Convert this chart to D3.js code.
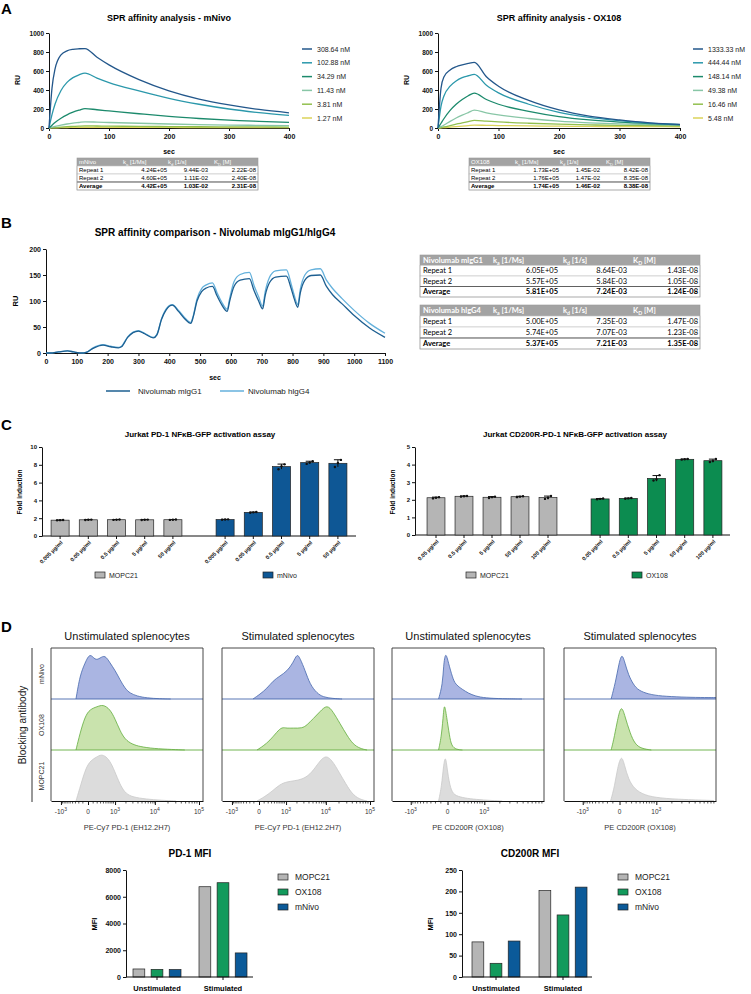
<!DOCTYPE html>
<html>
<head>
<meta charset="utf-8">
<script src="https://cdn.jsdelivr.net/npm/d3@7"></script>
<style>
  body { margin: 0; background: #fff; }
  svg { display: block; }
</style>
</head>
<body>
<svg id="fig" width="751" height="994"></svg>
<script>
// ---------- A: SPR sensorgrams ----------
const sprTimes = [0, 5, 10, 20, 30, 40, 50, 60, 80, 100, 150, 200, 250, 300, 350, 400];
const sprColors = ['#23578b', '#2b98ab', '#1c8a6c', '#88c6a6', '#92c04f', '#dbd35a'];

const mnivoConc = ['308.64 nM', '102.88 nM', '34.29 nM', '11.43 nM', '3.81 nM', '1.27 nM'];
const mnivoRU = [
  [0, 420, 620, 770, 812, 828, 834, 836, 745, 665, 510, 392, 305, 243, 195, 160],
  [0, 140, 250, 395, 480, 530, 560, 578, 525, 478, 390, 312, 250, 200, 162, 132],
  [0, 30, 58, 103, 139, 166, 187, 205, 192, 180, 150, 122, 100, 82, 70, 60],
  [0, 8, 16, 30, 42, 51, 58, 65, 62, 58, 50, 42, 36, 31, 28, 25],
  [0, 3, 5, 10, 14, 17, 20, 22, 21, 20, 17, 15, 13, 12, 11, 10],
  [0, 1, 2, 3, 5, 6, 7, 8, 8, 7, 6, 6, 5, 5, 4, 4],
];

const ox108Conc = ['1333.33 nM', '444.44 nM', '148.14 nM', '49.38 nM', '16.46 nM', '5.48 nM'];
const ox108RU = [
  [0, 420, 540, 610, 645, 665, 680, 690, 540, 440, 290, 190, 125, 85, 55, 38],
  [0, 230, 340, 440, 495, 530, 550, 565, 450, 370, 250, 165, 112, 78, 52, 36],
  [0, 50, 100, 185, 250, 300, 340, 368, 300, 250, 175, 120, 85, 62, 46, 34],
  [0, 15, 32, 70, 105, 135, 162, 188, 160, 138, 100, 72, 55, 44, 36, 30],
  [0, 5, 11, 25, 40, 55, 68, 80, 72, 64, 50, 40, 33, 28, 25, 22],
  [0, 2, 4, 9, 14, 20, 25, 30, 28, 26, 22, 19, 17, 15, 14, 13],
];

const tableRows = ['Repeat 1', 'Repeat 2', 'Average'];
const kinCols = [['k', 'a', '[1/Ms]'], ['k', 'd', '[1/s]'], ['K', 'D', '[M]']];
const mnivoKin = [['4.24E+05', '9.44E-03', '2.22E-08'], ['4.60E+05', '1.11E-02', '2.40E-08'], ['4.42E+05', '1.03E-02', '2.31E-08']];
const ox108Kin = [['1.73E+05', '1.45E-02', '8.42E-08'], ['1.76E+05', '1.47E-02', '8.35E-08'], ['1.74E+05', '1.46E-02', '8.38E-08']];

// ---------- B: single cycle kinetics ----------
const bTime = [0, 15, 40, 70, 90, 117, 130, 150, 185, 210, 235, 245, 265, 300, 320, 348, 360, 375, 390, 410,
  430, 450, 470, 478, 490, 505, 520, 540, 555, 570, 588, 596, 610, 630, 660, 675, 690, 703, 711, 725,
  745, 780, 795, 805, 817, 825, 840, 860, 890, 910, 930, 960, 1000, 1050, 1100];
const bMIgG1 = [0, 0, 2, 4, 2, 0, 1, 8, 15, 12, 10, 12, 30, 42, 37, 29, 35, 65, 83, 92,
  80, 66, 57, 70, 100, 118, 125, 128, 110, 93, 80, 100, 128, 140, 143, 120, 100, 85, 110, 135,
  146, 148, 125, 105, 88, 115, 140, 149, 150, 128, 112, 95, 72, 48, 30];
const bHIgG4 = [0, 0, 2, 4, 2, 0, 1, 9, 16, 13, 11, 13, 31, 43, 38, 30, 36, 66, 85, 93,
  82, 68, 59, 72, 104, 124, 131, 135, 116, 98, 84, 105, 137, 151, 155, 130, 108, 90, 117, 145,
  158, 160, 134, 112, 93, 122, 150, 160, 162, 140, 124, 105, 82, 57, 38];
const mIgG1Kin = [['6.05E+05', '8.64E-03', '1.43E-08'], ['5.57E+05', '5.84E-03', '1.05E-08'], ['5.81E+05', '7.24E-03', '1.24E-08']];
const hIgG4Kin = [['5.00E+05', '7.35E-03', '1.47E-08'], ['5.74E+05', '7.07E-03', '1.23E-08'], ['5.37E+05', '7.21E-03', '1.35E-08']];

// ---------- C: reporter assays (three replicates per bar) ----------
const pdDoses = ['0.005 µg/ml', '0.05 µg/ml', '0.5 µg/ml', '5 µg/ml', '50 µg/ml'];
const pdMOPC21 = [[1.76, 1.78, 1.80], [1.80, 1.82, 1.84], [1.81, 1.83, 1.85], [1.80, 1.82, 1.84], [1.81, 1.83, 1.85]];
const pdMNivo = [[1.83, 1.85, 1.87], [2.62, 2.66, 2.69], [7.5, 7.85, 8.05], [8.1, 8.25, 8.4], [7.75, 8.2, 8.55]];
const cdDoses = ['0.05 µg/ml', '0.5 µg/ml', '5 µg/ml', '50 µg/ml', '100 µg/ml'];
const cdMOPC21 = [[2.08, 2.12, 2.15], [2.18, 2.2, 2.22], [2.1, 2.15, 2.18], [2.15, 2.18, 2.2], [2.05, 2.1, 2.22]];
const cdOX108 = [[2.03, 2.05, 2.07], [2.06, 2.08, 2.1], [3.1, 3.15, 3.4], [4.28, 4.3, 4.32], [4.15, 4.2, 4.32]];

// ---------- D: flow histograms, [fluorescence, relative count] ----------
const pdUnstimMNivo = [[-283, 0], [-168, 0.5], [-55, 0.75], [36, 0.97], [144, 0.8], [283, 0.85], [463, 0.92], [696, 0.75], [997, 0.6], [1387, 0.4], [1892, 0.22], [2545, 0.12], [3795, 0.06], [6570, 0.02], [13170, 0.005], [23000, 0]];
const pdUnstimOX108 = [[-283, 0], [-168, 0.35], [-55, 0.7], [36, 0.85], [195, 0.9], [385, 0.95], [696, 0.85], [997, 0.65], [1387, 0.4], [1892, 0.22], [2858, 0.12], [4490, 0.07], [9080, 0.03], [26000, 0.01], [48000, 0]];
const pdUnstimMOPC21 = [[-283, 0], [-144, 0.35], [-36, 0.7], [55, 0.85], [195, 0.92], [315, 0.97], [505, 0.93], [750, 0.8], [1067, 0.55], [1478, 0.3], [2010, 0.15], [3027, 0.08], [6230, 0.04], [13900, 0.015], [30500, 0]];
const pdStimMNivo = [[-120, 0], [17, 0.1], [168, 0.22], [349, 0.38], [644, 0.48], [1067, 0.58], [1575, 0.75], [2010, 0.95], [2400, 0.85], [3203, 0.6], [4244, 0.3], [6230, 0.12], [8610, 0.04], [14620, 0.01], [23500, 0]];
const pdStimOX108 = [[-36, 0], [76, 0.08], [252, 0.2], [505, 0.38], [750, 0.48], [1067, 0.45], [1575, 0.46], [2697, 0.45], [3587, 0.52], [5010, 0.65], [7330, 0.8], [10650, 0.95], [14620, 0.8], [21100, 0.55], [30500, 0.3], [41600, 0.12], [59800, 0.03], [86000, 0]];
const pdStimMOPC21 = [[-36, 0], [97, 0.08], [315, 0.2], [644, 0.35], [1067, 0.4], [1675, 0.42], [2697, 0.45], [4244, 0.55], [6230, 0.75], [9580, 0.97], [13900, 0.85], [20050, 0.6], [28900, 0.35], [39500, 0.15], [56800, 0.04], [86000, 0]];
const cdUnstimMNivo = [[-140, 0], [-72, 0.3], [-57, 0.7], [-27, 1.0], [13, 0.75], [72, 0.45], [122, 0.3], [261, 0.2], [410, 0.12], [628, 0.06], [1049, 0.02], [2202, 0.005], [4790, 0]];
const cdUnstimOX108 = [[-140, 0], [-88, 0.3], [-57, 0.8], [-42, 0.97], [-13, 0.7], [27, 0.3], [57, 0.08], [140, 0.01], [261, 0]];
const cdUnstimMOPC21 = [[-140, 0], [-88, 0.3], [-57, 0.75], [-27, 0.97], [0, 0.6], [42, 0.25], [100, 0.12], [261, 0.07], [528, 0.04], [1152, 0.015], [2202, 0]];
const cdStimMNivo = [[-130, 0], [-57, 0.35], [-13, 0.7], [32, 0.97], [80, 0.75], [140, 0.5], [239, 0.3], [357, 0.18], [664, 0.1], [1262, 0.06], [2916, 0.04], [6230, 0.03], [10800, 0.03]];
const cdStimOX108 = [[-130, 0], [-88, 0.2], [-38, 0.55], [22, 0.97], [80, 0.7], [170, 0.35], [275, 0.12], [437, 0.03], [779, 0]];
const cdStimMOPC21 = [[-140, 0], [-72, 0.3], [-27, 0.7], [27, 0.97], [72, 0.75], [140, 0.45], [261, 0.25], [528, 0.12], [1152, 0.06], [3280, 0.03], [10000, 0.01]];

const mfiGroups = ['Unstimulated', 'Stimulated'];
const mfiSeries = ['MOPC21', 'OX108', 'mNivo'];
const pd1Mfi = [[600, 570, 560], [6750, 7050, 1800]];
const cd200rMfi = [[82, 32, 84], [202, 145, 210]];

// ---------- drawing ----------
const FONT = '"Liberation Sans", Arial, Helvetica, sans-serif';
const svg = d3.select('#fig').attr('font-family', FONT);
const plain = d3.format('d');

function txt(g, x, y, s, size, o = {}) {
  const t = g.append('text').attr('x', x).attr('y', y).attr('font-size', size).text(s);
  if (o.bold) t.attr('font-weight', 'bold');
  if (o.anchor) t.attr('text-anchor', o.anchor);
  if (o.rotate) t.attr('transform', `rotate(-90,${x},${y})`);
  if (o.fill) t.attr('fill', o.fill);
  return t;
}

function prismAxis(g, size) {
  g.attr('font-family', FONT).attr('font-size', size).attr('font-weight', 'bold');
  g.selectAll('path,line').attr('stroke', '#111').attr('stroke-width', 1);
  g.selectAll('text').attr('fill', '#111');
  return g;
}

function kinTable(x, y0, w, rowH, name, data, o) {
  const g = svg.append('g').attr('font-family', o.family).attr('font-size', o.size);
  const off = o.size * 0.35;
  g.append('rect').attr('x', x).attr('y', y0).attr('width', w).attr('height', rowH).attr('fill', '#a3a3a3');
  const hy = y0 + rowH / 2 + off;
  g.append('text').attr('x', x + o.labelX[0]).attr('y', hy).attr('fill', '#fff')
    .attr('font-weight', o.headBold ? 'bold' : null).text(name);
  kinCols.forEach(([b, s, u], j) => {
    const t = g.append('text').attr('x', x + o.labelX[j + 1]).attr('y', hy).attr('fill', '#fff')
      .attr('font-weight', o.headBold ? 'bold' : null);
    t.append('tspan').text(b);
    t.append('tspan').attr('font-size', o.size * 0.7).attr('dy', o.size * 0.25).text(s);
    t.append('tspan').attr('dy', -o.size * 0.25).text(' ' + u);
  });
  tableRows.forEach((r, i) => {
    const ry = y0 + rowH * (i + 1);
    g.append('rect').attr('x', x).attr('y', ry).attr('width', w).attr('height', rowH)
      .attr('fill', '#fff').attr('stroke', '#c4c4c4').attr('stroke-width', 0.6);
    const ty = ry + rowH / 2 + off;
    const bold = i === 2 ? 'bold' : null;
    g.append('text').attr('x', x + o.labelX[0]).attr('y', ty).attr('font-weight', bold).text(r);
    data[i].forEach((v, j) => g.append('text').attr('x', x + o.valX[j]).attr('y', ty)
      .attr('text-anchor', 'end').attr('font-weight', bold).text(v));
  });
  g.append('line').attr('x1', x).attr('x2', x + w).attr('y1', y0 + rowH * 3).attr('y2', y0 + rowH * 3)
    .attr('stroke', '#444').attr('stroke-width', 0.8);
  g.append('rect').attr('x', x).attr('y', y0).attr('width', w).attr('height', rowH * 4)
    .attr('fill', 'none').attr('stroke', '#9a9a9a').attr('stroke-width', 0.6);
}

// panel letters
[['A', 14], ['B', 228], ['C', 430], ['D', 632]].forEach(([l, y]) => txt(svg, 1, y, l, 15, { bold: true }));

// ----- A -----
function drawSPR(x0, x1, title, concs, series, tblX, tblName, tblData) {
  const x = d3.scaleLinear().domain([0, 400]).range([x0, x1]);
  const y = d3.scaleLinear().domain([0, 1000]).range([128, 33]);
  txt(svg, (x0 + x1) / 2, 21, title, 9, { bold: true, anchor: 'middle' });
  prismAxis(svg.append('g').attr('transform', 'translate(0,128)')
    .call(d3.axisBottom(x).tickValues([0, 100, 200, 300, 400]).tickFormat(plain).tickSize(3).tickPadding(3).tickSizeOuter(0)), 7);
  prismAxis(svg.append('g').attr('transform', `translate(${x0},0)`)
    .call(d3.axisLeft(y).tickValues(d3.range(0, 1001, 200)).tickFormat(plain).tickSize(3).tickPadding(2).tickSizeOuter(0)), 6.5);
  txt(svg, (x0 + x1) / 2, 154, 'sec', 7, { bold: true, anchor: 'middle' });
  txt(svg, x0 - 29, 80, 'RU', 7, { bold: true, anchor: 'middle', rotate: true });

  const line = d3.line().x((d, i) => x(sprTimes[i])).y(d => y(d)).curve(d3.curveMonotoneX);
  series.slice().reverse().forEach((s, k) => {
    const i = series.length - 1 - k;
    svg.append('path').attr('d', line(s)).attr('fill', 'none')
      .attr('stroke', sprColors[i]).attr('stroke-width', 1.3);
  });
  concs.forEach((c, i) => {
    const ly = 49 + i * 13.8;
    svg.append('line').attr('x1', x1 + 13).attr('x2', x1 + 23).attr('y1', ly).attr('y2', ly)
      .attr('stroke', sprColors[i]).attr('stroke-width', 1.5);
    txt(svg, x1 + 28, ly + 2.5, c, 7, { fill: '#222' });
  });
  kinTable(tblX, 158, 181, 8, tblName, tblData,
    { size: 6, family: FONT, labelX: [2, 46, 91, 137], valX: [90, 131, 179], headBold: false });
}
drawSPR(49, 289, 'SPR affinity analysis - mNivo', mnivoConc, mnivoRU, 77, 'mNivo', mnivoKin);
drawSPR(438, 680, 'SPR affinity analysis - OX108', ox108Conc, ox108RU, 469, 'OX108', ox108Kin);

// ----- B -----
{
  const x = d3.scaleLinear().domain([0, 1100]).range([46, 385]);
  const y = d3.scaleLinear().domain([0, 200]).range([353, 249]);
  txt(svg, 215, 236, 'SPR affinity comparison - Nivolumab mlgG1/hlgG4', 10, { bold: true, anchor: 'middle' });
  prismAxis(svg.append('g').attr('transform', 'translate(0,353)')
    .call(d3.axisBottom(x).tickValues(d3.range(0, 1101, 100)).tickFormat(plain).tickSize(3).tickPadding(3).tickSizeOuter(0)), 7);
  prismAxis(svg.append('g').attr('transform', 'translate(46,0)')
    .call(d3.axisLeft(y).tickValues([0, 50, 100, 150, 200]).tickSize(3).tickPadding(2).tickSizeOuter(0)), 7);
  txt(svg, 215, 380, 'sec', 7, { bold: true, anchor: 'middle' });
  txt(svg, 18, 301, 'RU', 7.5, { bold: true, anchor: 'middle', rotate: true });
  const line = d3.line().x((d, i) => x(bTime[i])).y(d => y(d)).curve(d3.curveMonotoneX);
  const bCurves = [[bHIgG4, '#64b1dc', 'Nivolumab hIgG4'], [bMIgG1, '#1d5f91', 'Nivolumab mIgG1']];
  bCurves.forEach(([s, c]) => svg.append('path').attr('d', line(s)).attr('fill', 'none')
    .attr('stroke', c).attr('stroke-width', 1.3));
  [[106, 138, bCurves[1]], [220, 248, bCurves[0]]].forEach(([lx, tx, [, c, name]]) => {
    svg.append('line').attr('x1', lx).attr('x2', lx + 24).attr('y1', 391).attr('y2', 391)
      .attr('stroke', c).attr('stroke-width', 1.5);
    txt(svg, tx, 394, name.replace('I', 'l'), 8, { fill: '#222' });
  });
  const bOpts = { size: 7.5, family: 'Lato, "Open Sans", sans-serif', labelX: [3, 73, 143, 213], valX: [138, 207, 278], headBold: true };
  kinTable(420, 255, 280, 10.5, 'Nivolumab mlgG1', mIgG1Kin, bOpts);
  kinTable(420, 305, 280, 11, 'Nivolumab hlgG4', hIgG4Kin, bOpts);
}

// ----- C -----
function foldPanel(o) {
  const y = d3.scaleLinear().domain([0, o.yMax]).range([o.y0, 447]);
  txt(svg, o.titleX, 437, o.title, 8, { bold: true, anchor: 'middle' });
  prismAxis(svg.append('g').attr('transform', `translate(${o.axisX},0)`)
    .call(d3.axisLeft(y).ticks(5).tickSize(3).tickPadding(2).tickSizeOuter(0)), 6);
  txt(svg, o.axisX - 20, 492, 'Fold induction', 6.5, { bold: true, anchor: 'middle', rotate: true });
  svg.append('line').attr('x1', o.axisX).attr('x2', o.axisEnd).attr('y1', o.y0).attr('y2', o.y0)
    .attr('stroke', '#111');
  const groups = [[o.ctrl, o.ctrlRange, '#b5b5b5'], [o.test, o.testRange, o.testColor]];
  groups.forEach(([reps, range, fill]) => {
    const x = d3.scaleBand().domain(o.doses).range(range).paddingInner(0.36).paddingOuter(0.18);
    o.doses.forEach((d, i) => {
      const r = reps[i], m = d3.mean(r), sd = d3.deviation(r);
      const cx = x(d) + x.bandwidth() / 2;
      svg.append('rect').attr('x', x(d)).attr('y', y(m)).attr('width', x.bandwidth()).attr('height', o.y0 - y(m))
        .attr('fill', fill).attr('stroke', '#222').attr('stroke-width', 0.7);
      svg.append('line').attr('x1', cx).attr('x2', cx).attr('y1', y(m - sd)).attr('y2', y(m + sd)).attr('stroke', '#111');
      svg.append('line').attr('x1', cx - 4).attr('x2', cx + 4).attr('y1', y(m + sd)).attr('y2', y(m + sd)).attr('stroke', '#111');
      r.forEach((v, k) => svg.append('circle').attr('cx', cx + (k - 1) * 3).attr('cy', y(v)).attr('r', 1.2).attr('fill', '#111'));
      svg.append('line').attr('x1', cx).attr('x2', cx).attr('y1', o.y0).attr('y2', o.y0 + 3).attr('stroke', '#111');
      svg.append('text').attr('x', cx + 3).attr('y', o.y0 + 7).attr('text-anchor', 'end')
        .attr('font-size', 5.5).attr('font-weight', 'bold').attr('fill', '#111')
        .attr('transform', `rotate(-45,${cx + 3},${o.y0 + 7})`).text(d);
    });
  });
  o.legend.forEach(([bx, name, fill]) => {
    svg.append('rect').attr('x', bx).attr('y', 572).attr('width', 10).attr('height', 6)
      .attr('fill', fill).attr('stroke', '#222').attr('stroke-width', 0.7);
    txt(svg, bx + 14, 578, name, 7, { fill: '#222' });
  });
}
foldPanel({
  title: 'Jurkat PD-1 NFκB-GFP activation assay', titleX: 200, yMax: 10, y0: 536, axisX: 42, axisEnd: 356,
  doses: pdDoses, ctrl: pdMOPC21, test: pdMNivo, testColor: '#0e5795',
  ctrlRange: [46, 187], testRange: [211, 352],
  legend: [[95, 'MOPC21', '#b5b5b5'], [263, 'mNivo', '#0e5795']],
});
foldPanel({
  title: 'Jurkat CD200R-PD-1 NFκB-GFP activation assay', titleX: 575, yMax: 5, y0: 535, axisX: 415, axisEnd: 730,
  doses: cdDoses, ctrl: cdMOPC21, test: cdOX108, testColor: '#0c8c50',
  ctrlRange: [422, 562], testRange: [586, 727],
  legend: [[466, 'MOPC21', '#b5b5b5'], [632, 'OX108', '#0c8c50']],
});

// ----- D histograms -----
const rowStyle = [
  { name: 'mNivo', fill: '#aab5e2', stroke: '#4668ad' },
  { name: 'OX108', fill: '#c9e3ad', stroke: '#62ad3e' },
  { name: 'MOPC21', fill: '#dcdcdc', stroke: '#c9c9c9' },
];
const rowBase = [699, 750, 801];
const minorTicks = [].concat(
  d3.range(-900, 0, 100), d3.range(100, 1000, 100), d3.range(2000, 10000, 1000),
  d3.range(20000, 100000, 10000), [10000]);

function histPanel(x0, title, sets, makeScale, majors, xlabel, clipId) {
  const xs = makeScale(x0);
  const [d0, d1] = xs.domain();
  txt(svg, x0 + 76, 640, title, 11, { anchor: 'middle', fill: '#111' });
  svg.append('clipPath').attr('id', clipId).append('rect').attr('x', x0).attr('y', 648).attr('width', 152).attr('height', 153);
  const g = svg.append('g').attr('clip-path', `url(#${clipId})`);
  sets.forEach((data, i) => {
    const hy = d3.scaleLinear().domain([0, 1]).range([rowBase[i], rowBase[i] - 48]);
    const st = rowStyle[i];
    g.append('path').attr('d', d3.area().x(d => xs(d[0])).y0(rowBase[i]).y1(d => hy(d[1])).curve(d3.curveBasis)(data))
      .attr('fill', st.fill);
    g.append('path').attr('d', d3.line().x(d => xs(d[0])).y(d => hy(d[1])).curve(d3.curveBasis)(data))
      .attr('fill', 'none').attr('stroke', st.stroke).attr('stroke-width', 0.8);
    if (i < 2) g.append('line').attr('x1', x0).attr('x2', x0 + 152).attr('y1', rowBase[i]).attr('y2', rowBase[i])
      .attr('stroke', st.stroke).attr('stroke-width', 0.9);
  });
  svg.append('path').attr('d', `M${x0},801V648H${x0 + 152}V801`).attr('fill', 'none').attr('stroke', '#333').attr('stroke-width', 0.9);
  const ax = svg.append('g').attr('transform', 'translate(0,801)')
    .call(d3.axisBottom(xs).tickValues(majors).tickSize(4).tickFormat(() => '').tickSizeOuter(0));
  ax.selectAll('path,line').attr('stroke', '#111');
  ax.selectAll('.minor').data(minorTicks.filter(v => v > d0 && v < d1)).enter().append('line')
    .attr('x1', d => xs(d)).attr('x2', d => xs(d)).attr('y1', 0).attr('y2', 2.5).attr('stroke', '#111').attr('stroke-width', 0.7);
  majors.forEach(v => {
    const t = svg.append('text').attr('x', xs(v)).attr('y', 814).attr('text-anchor', 'middle')
      .attr('font-size', 6.5).attr('fill', '#333');
    if (v === 0) t.text('0');
    else {
      t.append('tspan').text((v < 0 ? '-' : '') + '10');
      t.append('tspan').attr('dy', -3).attr('font-size', 5).text(Math.round(Math.log10(Math.abs(v))));
    }
  });
  txt(svg, x0 + 76, 830, xlabel, 7.5, { anchor: 'middle', fill: '#333' });
}
const pdScale = x0 => d3.scaleSymlog().constant(330).domain([-1890, 123000]).range([x0, x0 + 152]);
const cdScale = x0 => d3.scaleSymlog().constant(380).domain([-2280, 10800]).range([x0, x0 + 152]);
const pdMajors = [-1000, 0, 1000, 10000, 100000];
const cdMajors = [-1000, 0, 1000];
histPanel(51, 'Unstimulated splenocytes', [pdUnstimMNivo, pdUnstimOX108, pdUnstimMOPC21], pdScale, pdMajors, 'PE-Cy7 PD-1 (EH12.2H7)', 'c1');
histPanel(222, 'Stimulated splenocytes', [pdStimMNivo, pdStimOX108, pdStimMOPC21], pdScale, pdMajors, 'PE-Cy7 PD-1 (EH12.2H7)', 'c2');
histPanel(392, 'Unstimulated splenocytes', [cdUnstimMNivo, cdUnstimOX108, cdUnstimMOPC21], cdScale, cdMajors, 'PE CD200R (OX108)', 'c3');
histPanel(564, 'Stimulated splenocytes', [cdStimMNivo, cdStimOX108, cdStimMOPC21], cdScale, cdMajors, 'PE CD200R (OX108)', 'c4');

svg.append('line').attr('x1', 32).attr('x2', 32).attr('y1', 648).attr('y2', 802).attr('stroke', '#333');
txt(svg, 26, 725, 'Blocking antibody', 10, { anchor: 'middle', rotate: true, fill: '#222' });
rowStyle.forEach((r, i) => txt(svg, 44, rowBase[i] - 25, r.name, 7, { anchor: 'middle', rotate: true, fill: '#333' }));

// ----- D MFI bars -----
const mfiColors = ['#b5b5b5', '#139a5c', '#0b5a99'];
function mfiPanel(o) {
  const y = d3.scaleLinear().domain([0, o.yMax]).range([977, 870]);
  const gx = d3.scaleBand().domain(mfiGroups).range(o.groupRange);
  const sx = d3.scaleBand().domain(mfiSeries).range([-24, 24]).paddingInner(0.35);
  txt(svg, o.titleX, 857, o.title, 10, { bold: true, anchor: 'middle' });
  prismAxis(svg.append('g').attr('transform', `translate(${o.axisX},0)`)
    .call(d3.axisLeft(y).tickValues(o.ticks).tickFormat(plain).tickSize(3).tickPadding(2).tickSizeOuter(0)), 7);
  txt(svg, o.axisX - 29, 924, 'MFI', 7.5, { bold: true, anchor: 'middle', rotate: true });
  o.values.forEach((vals, gi) => {
    const c = gx(mfiGroups[gi]) + gx.bandwidth() / 2;
    vals.forEach((v, si) => svg.append('rect').attr('x', c + sx(mfiSeries[si])).attr('y', y(v))
      .attr('width', sx.bandwidth()).attr('height', 977 - y(v))
      .attr('fill', mfiColors[si]).attr('stroke', '#222').attr('stroke-width', 0.7));
    svg.append('line').attr('x1', c).attr('x2', c).attr('y1', 977).attr('y2', 980).attr('stroke', '#111');
    txt(svg, c, 991, mfiGroups[gi], 7.5, { bold: true, anchor: 'middle' });
  });
  svg.append('line').attr('x1', o.axisX).attr('x2', o.axisEnd).attr('y1', 977).attr('y2', 977).attr('stroke', '#111');
  mfiSeries.forEach((s, i) => {
    svg.append('rect').attr('x', o.legX).attr('y', 874 + i * 15).attr('width', 10).attr('height', 6)
      .attr('fill', mfiColors[i]).attr('stroke', '#222').attr('stroke-width', 0.7);
    txt(svg, o.legX + 17, 880 + i * 15, s, 8.5, { fill: '#222' });
  });
}
mfiPanel({ title: 'PD-1 MFI', titleX: 190, yMax: 8000, ticks: [0, 2000, 4000, 6000, 8000], axisX: 126, axisEnd: 253,
  groupRange: [124, 256], values: pd1Mfi, legX: 278 });
mfiPanel({ title: 'CD200R MFI', titleX: 530, yMax: 250, ticks: [0, 50, 100, 150, 200, 250], axisX: 462, axisEnd: 592,
  groupRange: [462.5, 596.5], values: cd200rMfi, legX: 618 });
</script>
</body>
</html>
